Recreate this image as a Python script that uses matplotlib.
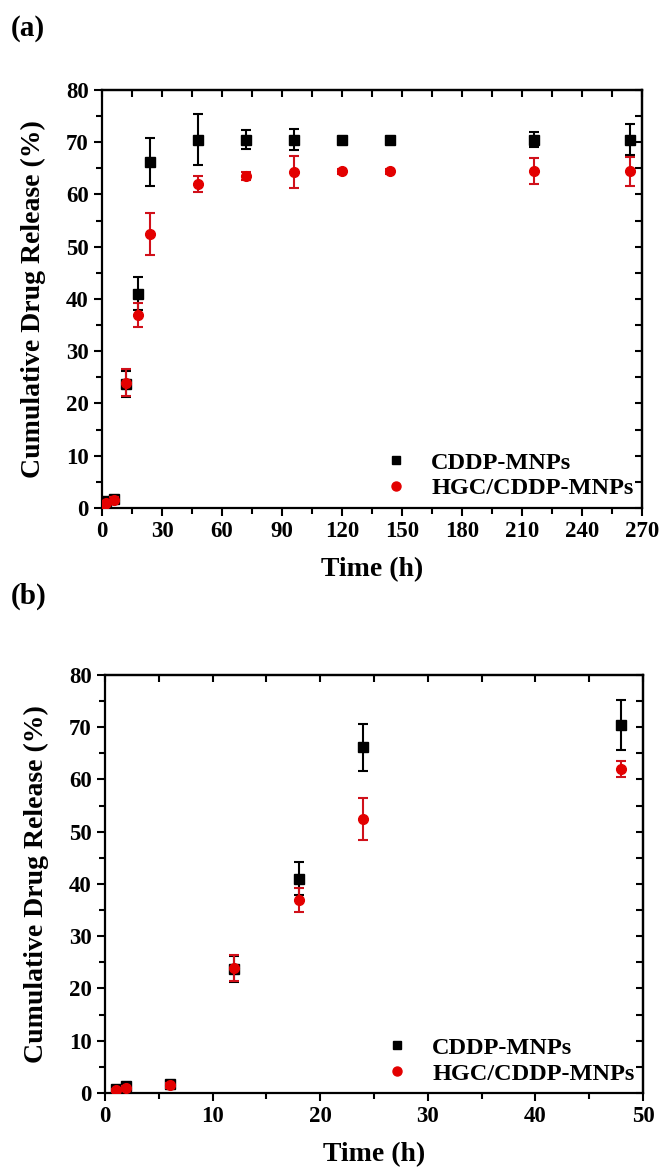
import matplotlib.pyplot as plt
from matplotlib.lines import Line2D
from matplotlib.ticker import MultipleLocator

plt.rcParams['font.family'] = ['Liberation Serif', 'DejaVu Serif']
plt.rcParams['font.weight'] = 'bold'

# release data
time_h = [1, 2, 6, 12, 18, 24, 48, 72, 96, 120, 144, 216, 264]
cddp = [0.8, 1.3, 1.7, 23.7, 41.0, 66.2, 70.5, 70.5, 70.5, 70.5, 70.5, 70.5, 70.5]
cddp_err = [0.3, 0.5, 0.6, 2.5, 3.2, 4.5, 4.8, 1.8, 2.0, 0.5, 0.3, 1.5, 3.0]
hgc = [0.5, 1.0, 1.5, 24.0, 37.0, 52.5, 62.0, 63.5, 64.3, 64.4, 64.4, 64.4, 64.4]
hgc_err = [0.3, 0.4, 0.5, 2.5, 2.3, 4.0, 1.5, 0.8, 3.0, 0.5, 0.5, 2.5, 2.8]

label_a = "CDDP-MNPs"
label_b = "HGC/CDDP-MNPs"

BLACK = 'black'
RED = '#e30000'


def draw_panel(ax, xmax, xmajor):
    ax.errorbar(time_h, cddp, yerr=cddp_err, fmt='s', color=BLACK, ecolor=BLACK,
                markersize=6.5, capsize=3.5, elinewidth=1.5, capthick=1.5, zorder=3)
    ax.errorbar(time_h, hgc, yerr=hgc_err, fmt='o', color=RED, ecolor='#d0101a',
                markersize=7, capsize=3.5, elinewidth=1.5, capthick=1.5, zorder=4)

    ax.set_xlim(0, xmax)
    ax.set_ylim(0, 80)
    ax.xaxis.set_major_locator(MultipleLocator(xmajor))
    ax.xaxis.set_minor_locator(MultipleLocator(xmajor / 2))
    ax.yaxis.set_major_locator(MultipleLocator(10))
    ax.yaxis.set_minor_locator(MultipleLocator(5))

    for s in ax.spines.values():
        s.set_linewidth(1.6)

    ax.tick_params(which='both', direction='out', width=1.5, labelsize=16.5,
                   top=False, right=False)
    ax.tick_params(which='major', length=6)
    ax.tick_params(which='minor', length=4)

    # mirrored inward ticks on top and right
    sx = ax.secondary_xaxis('top')
    sx.xaxis.set_major_locator(MultipleLocator(xmajor / 2))
    sx.tick_params(direction='in', length=5, width=1.5, labeltop=False)
    sx.spines['top'].set_linewidth(1.6)
    sy = ax.secondary_yaxis('right')
    sy.yaxis.set_major_locator(MultipleLocator(5))
    sy.tick_params(direction='in', length=5, width=1.5, labelright=False)
    sy.spines['right'].set_linewidth(1.6)

    for lbl in ax.get_xticklabels() + ax.get_yticklabels():
        lbl.set_fontweight('bold')

    ax.set_xlabel("Time (h)", fontsize=20, fontweight='bold', labelpad=11)
    ax.set_ylabel("Cumulative Drug Release (%)", fontsize=20, fontweight='bold', labelpad=14)

    # legend shows markers only, no error bars
    handles = [
        Line2D([], [], linestyle='none', marker='s', color=BLACK, markersize=6),
        Line2D([], [], linestyle='none', marker='o', color=RED, markersize=6.5),
    ]
    ax.legend(handles, [label_a, label_b], loc='lower right', frameon=False,
              prop={'size': 17.5, 'weight': 'bold'}, handletextpad=0.85,
              labelspacing=0.15, handlelength=1.2, borderpad=0.1, borderaxespad=0.25)


fig = plt.figure(figsize=(6.59, 11.72), dpi=100)

ax1 = fig.add_axes([0.1548, 0.5666, 0.8194, 0.3567])
draw_panel(ax1, 270, 30)

ax2 = fig.add_axes([0.1593, 0.0674, 0.8164, 0.3567])
draw_panel(ax2, 50, 10)

fig.text(0.016, 0.976, "(a)", fontsize=21, fontweight='bold', va='center')
fig.text(0.016, 0.4915, "(b)", fontsize=21, fontweight='bold', va='center')

fig.savefig("out.png", dpi=100)
